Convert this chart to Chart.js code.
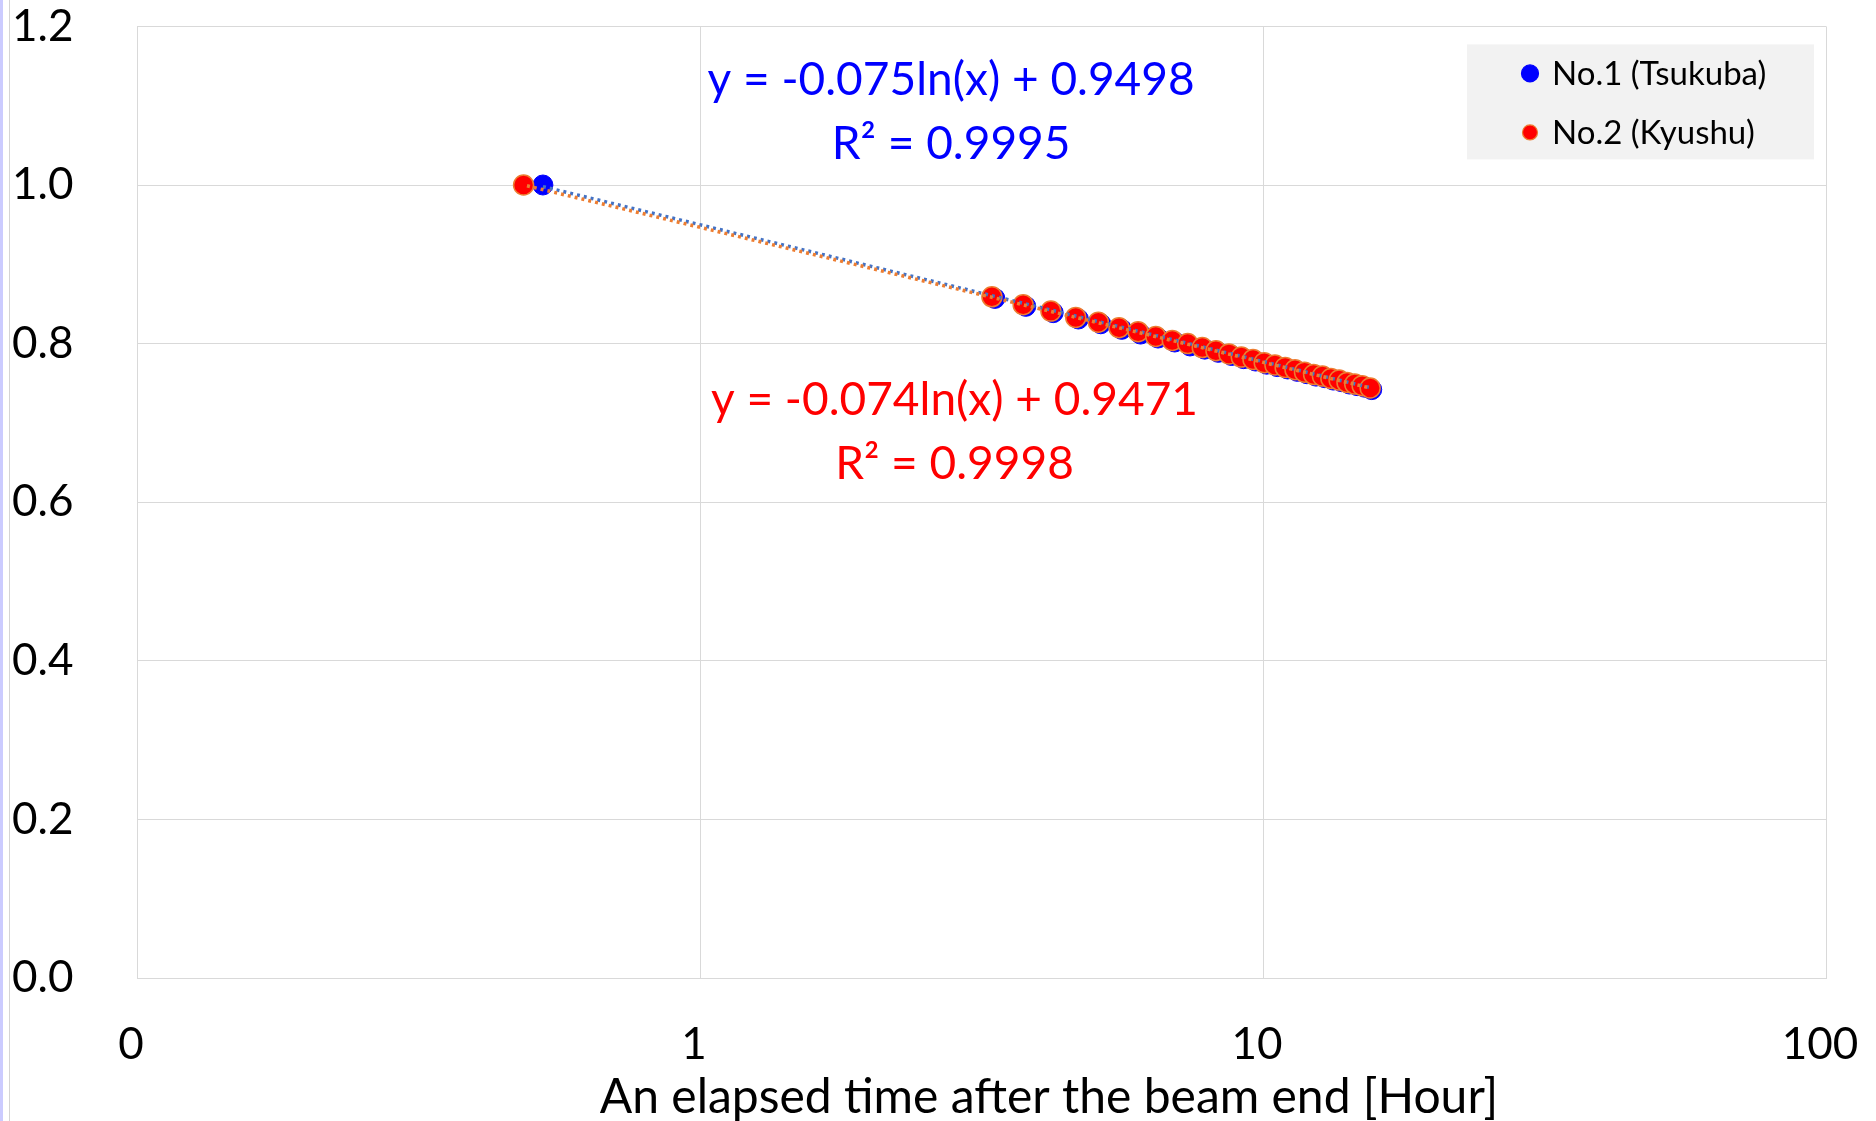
<!DOCTYPE html>
<html>
<head>
<meta charset="utf-8">
<script src="https://cdn.jsdelivr.net/npm/chart.js@4.4.0/dist/chart.umd.min.js"></script>
<style>
    html, body { margin: 0; padding: 0; background: #fff; }
    #wrap { position: relative; width: 1876px; height: 1121px; }
    #wrap::before { content: ''; position: absolute; left: 0; top: 0; width: 3px; height: 100%; background: #cbcbff; }
    #wrap::after { content: ''; position: absolute; left: 9px; top: 0; width: 1px; height: 100%; background: #d4d4d4; }
</style>
</head>
<body>
<div id="wrap"><canvas id="decayChart"></canvas></div>
<script>
// ===============================
// Data
// ===============================
const xTickValues = [0.1, 1, 10, 100];
const xTickLabels = ['0', '1', '10', '100'];
const yTickLabels = ['0.0', '0.2', '0.4', '0.6', '0.8', '1.0', '1.2'];
const seriesNames = ['No.1 (Tsukuba)', 'No.2 (Kyushu)'];
const xTitle = 'An elapsed time after the beam end [Hour]';

const tsukubaHours = [0.526, 3.34, 3.79, 4.24, 4.70, 5.15, 5.61, 6.06, 6.51, 6.97, 7.42, 7.88, 8.33, 8.79, 9.24,
    9.70, 10.15, 10.60, 11.06, 11.51, 11.97, 12.42, 12.88, 13.33, 13.79, 14.24, 14.70, 15.15, 15.60];
const tsukubaRatio = [1.000, 0.857, 0.847, 0.839, 0.831, 0.825, 0.818, 0.812, 0.807, 0.802, 0.797, 0.793, 0.789, 0.785, 0.781,
    0.778, 0.774, 0.771, 0.768, 0.765, 0.762, 0.759, 0.757, 0.754, 0.752, 0.749, 0.747, 0.745, 0.742];

const kyushuHours = [0.486, 3.30, 3.75, 4.20, 4.65, 5.10, 5.55, 6.00, 6.45, 6.90, 7.35, 7.80, 8.25, 8.70, 9.15,
    9.60, 10.05, 10.50, 10.95, 11.40, 11.85, 12.30, 12.75, 13.20, 13.65, 14.10, 14.55, 15.00, 15.50];
const kyushuRatio = [1.000, 0.859, 0.849, 0.841, 0.833, 0.827, 0.820, 0.815, 0.809, 0.804, 0.800, 0.795, 0.791, 0.787, 0.783,
    0.780, 0.776, 0.773, 0.770, 0.767, 0.764, 0.761, 0.759, 0.756, 0.754, 0.751, 0.749, 0.747, 0.744];

// trendline end points (straight on a log x axis)
const tsukubaTrendHours = [0.526, 15.60];
const tsukubaTrendRatio = [0.998, 0.744];
const kyushuTrendHours = [0.486, 15.50];
const kyushuTrendRatio = [1.000, 0.744];

const tsukubaFit = ['y = -0.075ln(x) + 0.9498', 'R\u00b2 = 0.9995'];
const kyushuFit = ['y = -0.074ln(x) + 0.9471', 'R\u00b2 = 0.9998'];

const FONT = 'Lato';
const toPoints = (xs, ys) => xs.map((x, i) => ({ x: x, y: ys[i] }));

// ===============================
// Legend, axis title + trendline labels
// ===============================
const overlayPlugin = {
    id: 'overlay',
    afterDatasetsDraw(chart) {
        const { ctx, chartArea } = chart;
        const W = chartArea.right - chartArea.left;
        const H = chartArea.bottom - chartArea.top;
        ctx.save();

        // fit equations
        ctx.font = '46px ' + FONT;
        ctx.textAlign = 'center';
        ctx.textBaseline = 'alphabetic';
        const labels = [
            { lines: tsukubaFit, color: '#0000ff', fx: 0.482, fy: [0.0546, 0.1218] },
            { lines: kyushuFit, color: '#ff0000', fx: 0.484, fy: [0.391, 0.458] }
        ];
        labels.forEach(l => {
            ctx.fillStyle = l.color;
            l.lines.forEach((t, i) => {
                ctx.fillText(t, chartArea.left + l.fx * W, chartArea.top + l.fy[i] * H + 16.5);
            });
        });

        // x axis title (Excel put it a bit right of centre)
        ctx.font = '48px ' + FONT;
        ctx.fillStyle = '#000';
        ctx.fillText(xTitle, chartArea.left + 0.54 * W, chartArea.bottom + 135);

        // legend box
        const bx = chartArea.right - 359, by = chartArea.top + 18;
        ctx.fillStyle = '#f2f2f2';
        ctx.fillRect(bx, by, 347, 115);
        ctx.font = '33px ' + FONT;
        ctx.textAlign = 'left';
        const rows = [29, 88];
        chart.data.datasets.slice(0, 2).forEach((ds, i) => {
            const cy = by + rows[i];
            ctx.beginPath();
            ctx.arc(bx + 63, cy, i === 0 ? 8.5 : 7.5, 0, Math.PI * 2);
            ctx.fillStyle = ds.backgroundColor;
            ctx.fill();
            ctx.lineWidth = 1.2;
            ctx.strokeStyle = ds.borderColor;
            ctx.stroke();
            ctx.fillStyle = '#000';
            ctx.fillText(ds.label, bx + 85, cy + 12);
        });
        ctx.restore();
    }
};

// ===============================
// Chart.js Configuration
// ===============================
const ctx = document.getElementById('decayChart');
new Chart(ctx.getContext('2d'), {
    type: 'scatter',
    data: {
        datasets: [{
            label: seriesNames[0],
            data: toPoints(tsukubaHours, tsukubaRatio),
            backgroundColor: '#0000ff',
            borderColor: '#0000ff',
            borderWidth: 1,
            pointRadius: 10,
            order: 3
        }, {
            label: seriesNames[1],
            data: toPoints(kyushuHours, kyushuRatio),
            backgroundColor: '#ff0000',
            borderColor: '#ed7d31',
            borderWidth: 1.5,
            pointRadius: 10,
            order: 2
        }, {
            label: 'trend 1',
            data: toPoints(tsukubaTrendHours, tsukubaTrendRatio),
            showLine: true,
            borderColor: '#4472c4',
            borderWidth: 3.5,
            borderDash: [3, 4],
            pointRadius: 0,
            order: 1
        }, {
            label: 'trend 2',
            data: toPoints(kyushuTrendHours, kyushuTrendRatio),
            showLine: true,
            borderColor: '#ed7d31',
            borderWidth: 3.5,
            borderDash: [3, 4],
            borderDashOffset: 3.5,
            pointRadius: 0,
            order: 0
        }]
    },
    options: {
        responsive: true,
        maintainAspectRatio: false,
        animation: false,
        layout: { padding: { left: 12, right: 50, top: 0, bottom: 0 } },
        plugins: { legend: { display: false }, tooltip: { enabled: false } },
        scales: {
            x: {
                type: 'logarithmic',
                min: 0.1,
                max: 100,
                afterFit: s => { s.height = 143; },
                afterBuildTicks: s => { s.ticks = xTickValues.map(v => ({ value: v })); },
                ticks: {
                    autoSkip: false,
                    maxRotation: 0,
                    padding: 0,
                    labelOffset: -6,
                    color: '#000',
                    font: { family: FONT, size: 44 },
                    callback: (v, i) => xTickLabels[i]
                },
                grid: { color: '#d9d9d9', drawTicks: true, tickLength: 40, tickColor: 'rgba(0,0,0,0)' },
                border: { color: '#d9d9d9' }
            },
            y: {
                min: 0,
                max: 1.2,
                afterFit: s => { s.width = 125; },
                ticks: {
                    stepSize: 0.2,
                    crossAlign: 'far',
                    padding: 0,
                    color: '#000',
                    font: { family: FONT, size: 44 },
                    callback: (v, i) => yTickLabels[i]
                },
                grid: { color: '#d9d9d9', drawTicks: false },
                border: { color: '#d9d9d9' }
            }
        }
    },
    plugins: [overlayPlugin]
});
</script>
</body>
</html>
